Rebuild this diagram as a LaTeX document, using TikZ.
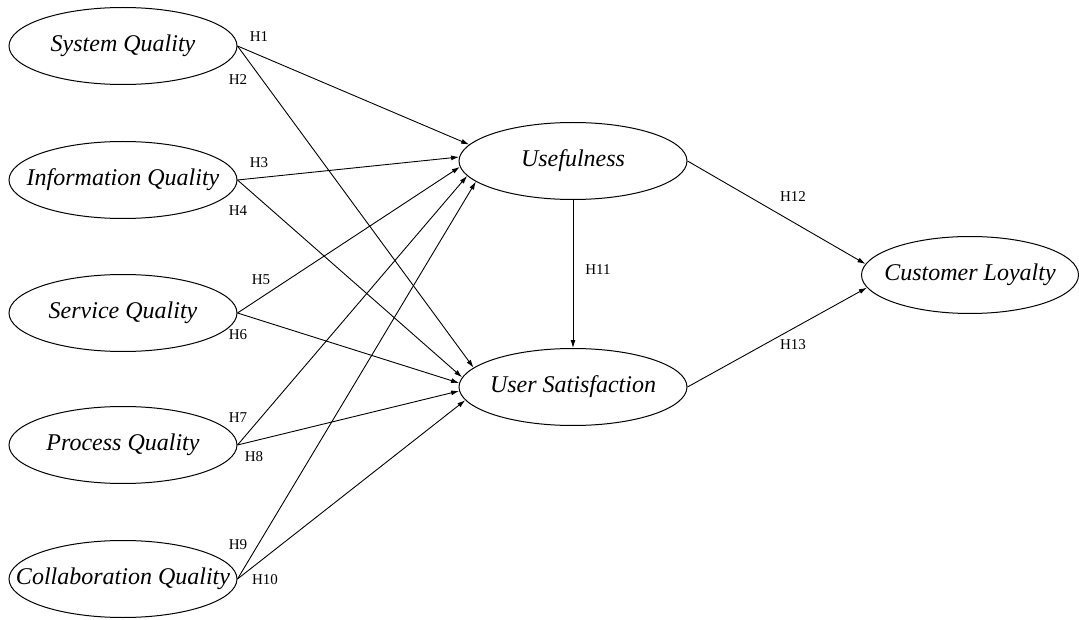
\documentclass[tikz,border=0pt]{standalone}
\usepackage{fontspec}
\setmainfont{Liberation Serif}
\usetikzlibrary{shapes.geometric,arrows.meta}

\begin{document}
\begin{tikzpicture}[
  x=1pt, y=-1pt,
  construct/.style={draw, ellipse, line width=1pt, minimum width=228pt,
    minimum height=77pt, inner xsep=-40pt, inner ysep=0pt,
    font=\fontsize{24}{26}\selectfont\itshape},
  path/.style={-{Latex[length=8pt,width=5pt]}, line width=0.9pt},
  hyp/.style={inner sep=0pt, font=\fontsize{15}{16}\selectfont}
  ]
  \useasboundingbox (0,0) rectangle (1079,620);
  % exogenous constructs
  \node[construct] (sysq) at (123,46) {System Quality};
  \node[construct] (infq) at (123,180) {Information Quality};
  \node[construct] (srvq) at (123,313) {Service Quality};
  \node[construct] (proq) at (123,445) {Process Quality};
  \node[construct] (colq) at (123,579) {Collaboration Quality};
  % mediators and outcome
  \node[construct] (useful) at (573,161) {Usefulness};
  \node[construct] (usat) at (573,387) {User Satisfaction};
  \node[construct, minimum width=217pt] (loyal) at (970,275) {Customer Loyalty};

  % paths to usefulness
  \draw[path] (sysq.east) -- (useful.171);
  \draw[path] (infq.east) -- (useful.178);
  \draw[path] (srvq.east) -- (useful.183);
  \draw[path] (proq.east) -- (useful.188);
  \draw[path] (colq.east) -- (useful.192);
  % paths to user satisfaction
  \draw[path] (sysq.east) -- (usat.169);
  \draw[path] (infq.east) -- (usat.175);
  \draw[path] (srvq.east) -- (usat.178);
  \draw[path] (proq.east) -- (usat.182);
  \draw[path] (colq.east) -- (usat.187);
  % usefulness -> satisfaction -> loyalty
  \draw[path] (useful.south) -- (usat.north);
  \draw[path] (useful.east) -- (loyal.174);
  \draw[path] (usat.east) -- (loyal.187);

  % hypothesis labels
  \node[hyp] (h1) at (259,37) {H1};
  \node[hyp] (h2) at (238,80) {H2};
  \node[hyp] (h3) at (259,163) {H3};
  \node[hyp] (h4) at (238,211) {H4};
  \node[hyp] (h5) at (261,280) {H5};
  \node[hyp] (h6) at (238,335) {H6};
  \node[hyp] (h7) at (238,418) {H7};
  \node[hyp] (h8) at (254,457) {H8};
  \node[hyp] (h9) at (238,545) {H9};
  \node[hyp] (h10) at (265,580) {H10};
  \node[hyp] (h11) at (598,270) {H11};
  \node[hyp] (h12) at (793,197) {H12};
  \node[hyp] (h13) at (793,345) {H13};
\end{tikzpicture}
\end{document}
